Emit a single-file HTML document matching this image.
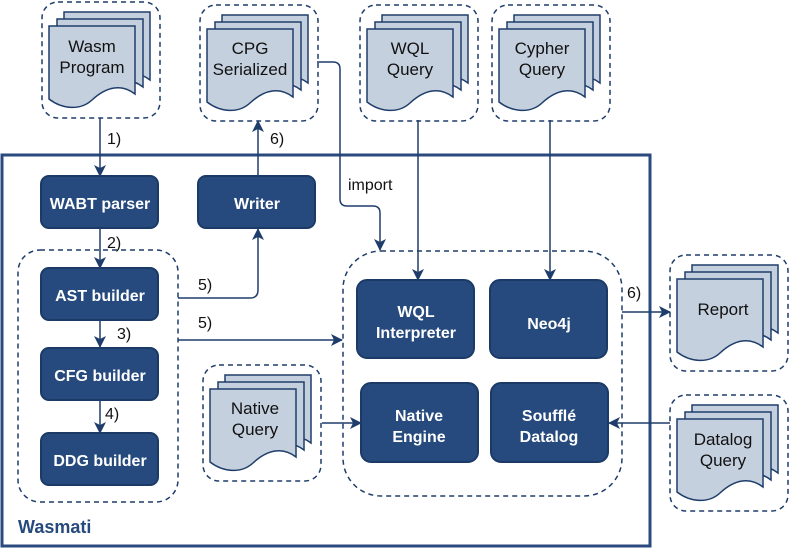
<!DOCTYPE html>
<html><head><style>body{margin:0;background:#fff}svg{display:block}</style></head><body>
<svg width="789" height="549" viewBox="0 0 789 549" xmlns="http://www.w3.org/2000/svg" font-family="Liberation Sans, sans-serif">
<defs>
<marker id="a" markerWidth="12" markerHeight="12" refX="11" refY="6" orient="auto" markerUnits="userSpaceOnUse"><path d="M0,0 L12,6 L0,12 L3,6 Z" fill="#1f3d6b"/></marker>
<g id="doc">
<rect x="0" y="0" width="118" height="116" rx="16" fill="none" stroke="#1f3d6b" stroke-width="1.5" stroke-dasharray="5,4"/>
<path d="M22,10 H108 V78 C95,68 80,70 65,84 C53,95 35,93 22,83 Z" fill="#c5d0de" stroke="#1f3d6b" stroke-width="1.5"/>
<path d="M15,17 H101 V85 C88,75 73,77 58,91 C46,102 28,100 15,90 Z" fill="#c5d0de" stroke="#1f3d6b" stroke-width="1.5"/>
<path d="M7,24 H93 V92 C80,82 65,84 50,98 C38,109 20,107 7,97 Z" fill="#c5d0de" stroke="#1f3d6b" stroke-width="1.5"/>
</g>
</defs>
<rect x="2" y="155" width="648" height="391" fill="none" stroke="#2a4a7f" stroke-width="3"/>
<use href="#doc" x="42" y="2"/>
<use href="#doc" x="200" y="5"/>
<use href="#doc" x="360" y="5"/>
<use href="#doc" x="492" y="5"/>
<use href="#doc" x="670" y="255"/>
<use href="#doc" x="670" y="395"/>
<use href="#doc" x="203" y="365"/>
<g font-size="17" fill="#111" text-anchor="middle">
<text x="92" y="52">Wasm</text><text x="92" y="73">Program</text>
<text x="250" y="54">CPG</text><text x="250" y="75">Serialized</text>
<text x="410" y="54">WQL</text><text x="410" y="75">Query</text>
<text x="542" y="54">Cypher</text><text x="542" y="75">Query</text>
<text x="723" y="315">Report</text>
<text x="723" y="445">Datalog</text><text x="723" y="466">Query</text>
<text x="255" y="414">Native</text><text x="255" y="435">Query</text>
</g>
<rect x="18" y="250" width="160" height="252" rx="22" fill="none" stroke="#1f3d6b" stroke-width="1.5" stroke-dasharray="5,4"/>
<rect x="343" y="251" width="279" height="245" rx="38" fill="none" stroke="#1f3d6b" stroke-width="1.5" stroke-dasharray="5,4"/>
<g fill="#264a7d" stroke="#1c3a66" stroke-width="2">
<rect x="41" y="176" width="117" height="52" rx="8"/>
<rect x="198" y="176" width="117" height="52" rx="8"/>
<rect x="41" y="268" width="117" height="52" rx="8"/>
<rect x="41" y="348" width="117" height="52" rx="8"/>
<rect x="41" y="433" width="117" height="52" rx="8"/>
<rect x="357" y="280" width="117" height="78" rx="10"/>
<rect x="490" y="280" width="117" height="78" rx="10"/>
<rect x="361" y="383" width="117" height="79" rx="10"/>
<rect x="491" y="383" width="117" height="79" rx="10"/>
</g>
<g font-size="16" font-weight="bold" fill="#fff" text-anchor="middle">
<text x="100" y="209">WABT parser</text>
<text x="257" y="209">Writer</text>
<text x="100" y="301">AST builder</text>
<text x="100" y="381">CFG builder</text>
<text x="100" y="466">DDG builder</text>
<text x="416" y="317">WQL</text><text x="416" y="338">Interpreter</text>
<text x="549" y="329">Neo4j</text>
<text x="419" y="421">Native</text><text x="419" y="442">Engine</text>
<text x="549" y="421">Soufflé</text><text x="549" y="442">Datalog</text>
</g>
<g stroke="#1f3d6b" stroke-width="1.5" fill="none" marker-end="url(#a)">
<path d="M100,118 V176"/>
<path d="M100,228 V268"/>
<path d="M100,320 V347"/>
<path d="M100,400 V433"/>
<path d="M258,176 V121"/>
<path d="M178,298 H250 Q258,298 258,290 V229"/>
<path d="M178,340 H342"/>
<path d="M317,62 H333 Q340,62 340,69 V199 Q340,206 347,206 H373 Q380,206 380,213 V250"/>
<path d="M418,120 V280"/>
<path d="M550,120 V280"/>
<path d="M622,312 H670"/>
<path d="M322,423 H361"/>
<path d="M670,423 H609"/>
</g>
<g font-size="16" fill="#111">
<text x="107" y="144">1)</text>
<text x="107" y="248">2)</text>
<text x="117" y="339">3)</text>
<text x="105" y="419">4)</text>
<text x="270" y="144">6)</text>
<text x="198" y="290">5)</text>
<text x="198" y="328">5)</text>
<text x="348" y="190">import</text>
<text x="627" y="298">6)</text>
</g>
<text x="18" y="533" font-size="18" font-weight="bold" fill="#264a7d">Wasmati</text>
</svg>
</body></html>
